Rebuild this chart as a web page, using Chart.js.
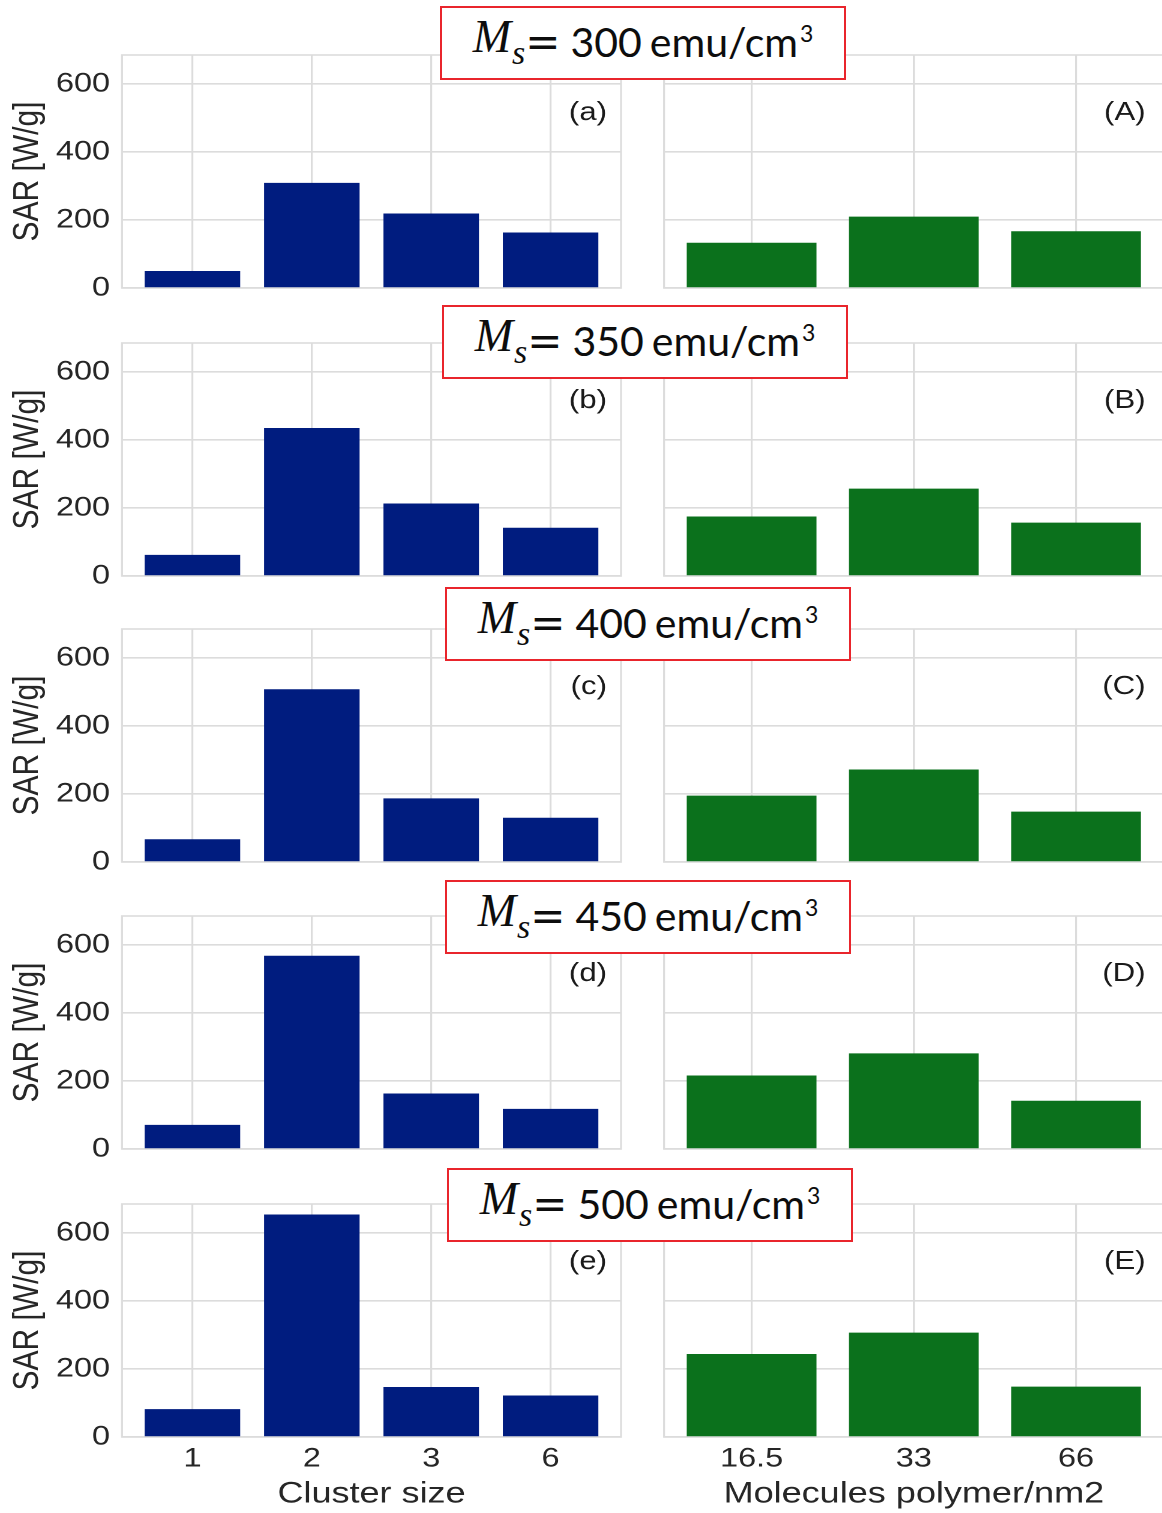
<!DOCTYPE html>
<html>
<head>
<meta charset="utf-8">
<script src="https://cdn.jsdelivr.net/npm/chart.js@4.4.1/dist/chart.umd.min.js"></script>
<style>
  body { margin: 0; background: #fff; width: 1162px; height: 1513px; overflow: hidden; position: relative; }
  .panel { position: absolute; transform-origin: 0 0; }
  .msBox {
    position: absolute; box-sizing: border-box; width: 406px; height: 74px;
    border: 2px solid #e9252c; background: #fff;
    display: flex; align-items: center; justify-content: center;
    color: #0d0d0d; white-space: nowrap; padding-bottom: 4px;
  }
  .msBox .sym { font-family: "Liberation Serif", serif; font-style: italic; font-size: 46px; }
  .msBox .sym sub { font-size: 34px; vertical-align: -12px; margin-left: 1px; }
  .msBox .eq { font-family: "DejaVu Sans", sans-serif; font-size: 42px; }
  .msBox .num { font-family: Lato, sans-serif; font-size: 41px; margin-left: 10px; }
  .msBox .unit { font-family: Lato, sans-serif; font-size: 41px; margin-left: 8px; }
  .msBox sup { font-size: 23px; vertical-align: 15px; margin-left: 2px; }
</style>
</head>
<body>
<script>
//! data: SAR [W/g] for every saturation magnetisation Ms
const msValues = [300, 350, 400, 450, 500];
const clusterSizes = ["1", "2", "3", "6"];
const polymerDensity = ["16.5", "33", "66"];
const leftTags = ["(a)", "(b)", "(c)", "(d)", "(e)"];
const rightTags = ["(A)", "(B)", "(C)", "(D)", "(E)"];

const sarCluster300 = [50, 309, 219, 163];
const sarCluster350 = [62, 435, 213, 142];
const sarCluster400 = [67, 508, 187, 130];
const sarCluster450 = [71, 568, 163, 118];
const sarCluster500 = [82, 654, 147, 122];

const sarPolymer300 = [133, 210, 167];
const sarPolymer350 = [175, 257, 157];
const sarPolymer400 = [195, 272, 148];
const sarPolymer450 = [216, 281, 142];
const sarPolymer500 = [244, 307, 148];

const yTicks = [0, 200, 400, 600];
const yMax = 685;

const clusterRows = [sarCluster300, sarCluster350, sarCluster400, sarCluster450, sarCluster500];
const polymerRows = [sarPolymer300, sarPolymer350, sarPolymer400, sarPolymer450, sarPolymer500];

//! layout
const STRETCH = 1.2;            // figure is wider than its fonts
const zeroLine = [288, 576, 862, 1149, 1437];
const plotH = 233;
const padTop = 14;
const boxPos = [[440, 6], [442, 305], [445, 587], [445, 880], [447, 1168]];

const BLUE = "#001c7f";
const GREEN = "#0b711c";
const GRID = "#dcdcdc";
const TEXT = "#262626";
const FONT = "'Liberation Sans', Arial, sans-serif";

// light frame round the plot area
const frameBox = {
  id: "frameBox",
  beforeDatasetsDraw(chart) {
    const a = chart.chartArea;
    const ctx = chart.ctx;
    ctx.save();
    ctx.strokeStyle = GRID;
    ctx.lineWidth = 1.6;
    ctx.strokeRect(a.left, a.top, a.right - a.left, a.bottom - a.top);
    ctx.restore();
  }
};

// "(a)" style tag in the top right corner
const panelTag = {
  id: "panelTag",
  afterDatasetsDraw(chart, args, opts) {
    const a = chart.chartArea;
    const ctx = chart.ctx;
    ctx.save();
    ctx.font = "26px " + FONT;
    ctx.fillStyle = "#1a1a1a";
    ctx.textAlign = "right";
    ctx.textBaseline = "middle";
    ctx.fillText(opts.text, a.right - opts.inset, a.top + 58);
    ctx.restore();
  }
};

// no extra room for overhanging tick labels
function noLabelPadding(s) {
  s.paddingTop = 0;
  s.paddingBottom = 0;
  s.paddingLeft = 0;
  s.paddingRight = 0;
}

function makePanel(row, side) {
  const isLeft = side === "left";
  const isBottom = row === 4;
  const labels = isLeft ? clusterSizes : polymerDensity;
  const values = isLeft ? clusterRows[row] : polymerRows[row];
  const n = labels.length;
  const margin = 0.05 * (n - 1 + 0.8);

  const outerLeft = isLeft ? 0 : 642;
  const outerW = isLeft ? 642 : 530;
  const yAxisW = isLeft ? 122 : 22;
  const padRight = isLeft ? 21 : 9;
  const top = zeroLine[row] - plotH - padTop;
  const bottom = isBottom ? 1513 : zeroLine[row] + 16;

  const div = document.createElement("div");
  div.className = "panel";
  div.style.left = outerLeft + "px";
  div.style.top = top + "px";
  div.style.width = (outerW / STRETCH) + "px";
  div.style.height = (bottom - top) + "px";
  div.style.transform = "scaleX(" + STRETCH + ")";
  const canvas = document.createElement("canvas");
  div.appendChild(canvas);
  document.body.appendChild(div);

  return new Chart(canvas, {
    type: "bar",
    data: {
      datasets: [{
        data: values.map((v, i) => ({ x: i, y: v })),
        backgroundColor: isLeft ? BLUE : GREEN,
        barPercentage: 1,
        categoryPercentage: 0.8
      }]
    },
    options: {
      responsive: true,
      maintainAspectRatio: false,
      devicePixelRatio: 2,
      animation: false,
      layout: { padding: { top: padTop, right: padRight / STRETCH, left: 0, bottom: 0 } },
      plugins: {
        legend: { display: false },
        tooltip: { enabled: false },
        panelTag: { text: (isLeft ? leftTags : rightTags)[row], inset: (isLeft ? 14 : 18) / STRETCH }
      },
      scales: {
        x: {
          type: "linear",
          bounds: "data",
          offset: false,
          min: -0.4 - margin,
          max: n - 1 + 0.4 + margin,
          afterBuildTicks: s => { s.ticks = labels.map((_, i) => ({ value: i })); },
          afterFit: s => { s.height = bottom - zeroLine[row]; noLabelPadding(s); },
          ticks: {
            display: isBottom,
            autoSkip: false,
            maxRotation: 0,
            padding: 6,
            color: TEXT,
            font: { family: FONT, size: 27 },
            callback: v => labels[v]
          },
          grid: { color: GRID, lineWidth: 1.6, drawTicks: false, offset: false },
          border: { display: false },
          title: {
            display: isBottom,
            text: isLeft ? "Cluster size" : "Molecules polymer/nm2",
            color: TEXT,
            font: { family: FONT, size: 30 },
            padding: { top: 0, bottom: 1 }
          }
        },
        y: {
          bounds: "data",
          min: 0,
          max: yMax,
          afterBuildTicks: s => { s.ticks = yTicks.map(v => ({ value: v })); },
          afterFit: s => { s.width = yAxisW / STRETCH; noLabelPadding(s); },
          ticks: {
            display: isLeft,
            padding: 10,
            color: TEXT,
            font: { family: FONT, size: 27 }
          },
          grid: { color: GRID, lineWidth: 1.6, drawTicks: false },
          border: { display: false },
          title: {
            display: isLeft,
            text: "SAR [W/g]",
            color: TEXT,
            font: { family: FONT, size: 30 },
            padding: { top: 5, bottom: 0 }
          }
        }
      }
    },
    plugins: [frameBox, panelTag]
  });
}

function makeBox(row) {
  const box = document.createElement("div");
  box.className = "msBox";
  box.style.left = boxPos[row][0] + "px";
  box.style.top = boxPos[row][1] + "px";
  box.innerHTML = '<span class="sym">M<sub>s</sub></span><span class="eq">=</span>' +
    '<span class="num">' + msValues[row] + '</span>' +
    '<span class="unit">emu/cm<sup>3</sup></span>';
  document.body.appendChild(box);
}

for (let r = 0; r < msValues.length; r++) {
  makePanel(r, "left");
  makePanel(r, "right");
}
for (let r = 0; r < msValues.length; r++) {
  makeBox(r);
}
</script>
</body>
</html>
